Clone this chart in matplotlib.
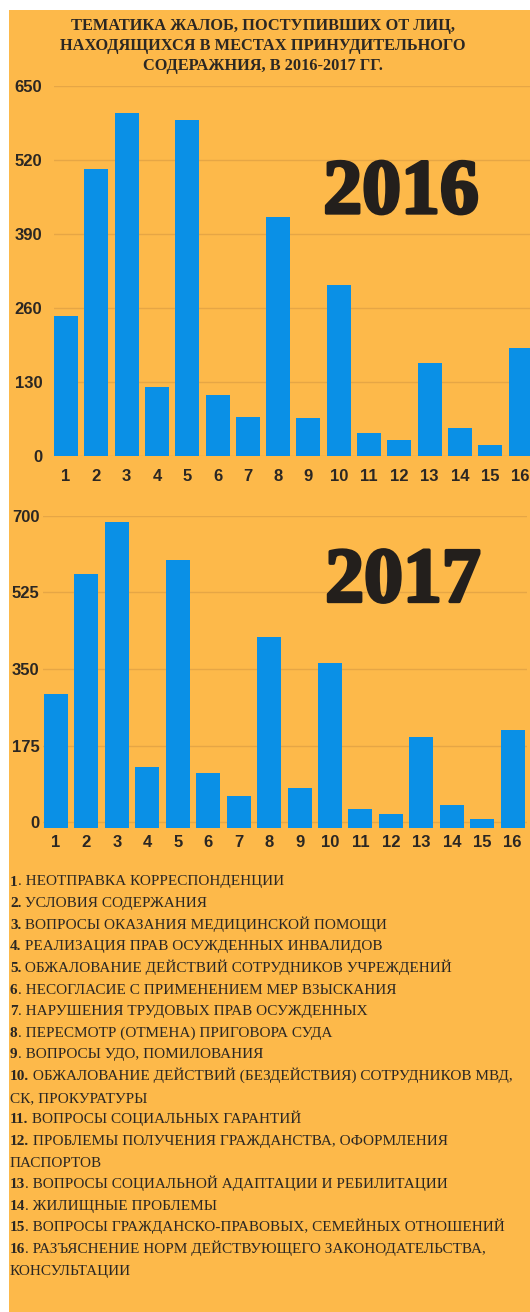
import matplotlib.pyplot as plt
import matplotlib.patheffects as pe
from matplotlib.patches import Rectangle
import numpy as np

# данные
topics = list(range(1, 17))
values_2016 = [246, 504, 602, 121, 590, 107, 68, 419, 67, 301, 40, 28, 163, 49, 19, 189]
values_2017 = [293, 566, 685, 126, 600, 113, 59, 423, 78, 364, 30, 19, 195, 39, 8, 211]
yticks_2016 = [0, 130, 260, 390, 520, 650]
yticks_2017 = [0, 175, 350, 525, 700]

title_lines = [
    "ТЕМАТИКА ЖАЛОБ, ПОСТУПИВШИХ ОТ ЛИЦ,",
    "НАХОДЯЩИХСЯ В МЕСТАХ ПРИНУДИТЕЛЬНОГО",
    "СОДЕРАЖНИЯ, В 2016-2017 ГГ.",
]

# (номер, текст); None -> строка-продолжение
legend_lines = [
    ("1", ". НЕОТПРАВКА КОРРЕСПОНДЕНЦИИ"),
    ("2.", " УСЛОВИЯ СОДЕРЖАНИЯ"),
    ("3.", " ВОПРОСЫ ОКАЗАНИЯ МЕДИЦИНСКОЙ ПОМОЩИ"),
    ("4.", " РЕАЛИЗАЦИЯ ПРАВ ОСУЖДЕННЫХ ИНВАЛИДОВ"),
    ("5.", " ОБЖАЛОВАНИЕ ДЕЙСТВИЙ СОТРУДНИКОВ УЧРЕЖДЕНИЙ"),
    ("6", ". НЕСОГЛАСИЕ С ПРИМЕНЕНИЕМ МЕР ВЗЫСКАНИЯ"),
    ("7", ". НАРУШЕНИЯ ТРУДОВЫХ ПРАВ ОСУЖДЕННЫХ"),
    ("8", ". ПЕРЕСМОТР (ОТМЕНА) ПРИГОВОРА СУДА"),
    ("9", ". ВОПРОСЫ УДО, ПОМИЛОВАНИЯ"),
    ("10.", " ОБЖАЛОВАНИЕ ДЕЙСТВИЙ (БЕЗДЕЙСТВИЯ) СОТРУДНИКОВ МВД,"),
    (None, "СК, ПРОКУРАТУРЫ"),
    ("11.", " ВОПРОСЫ СОЦИАЛЬНЫХ ГАРАНТИЙ"),
    ("12.", " ПРОБЛЕМЫ ПОЛУЧЕНИЯ ГРАЖДАНСТВА, ОФОРМЛЕНИЯ"),
    (None, "ПАСПОРТОВ"),
    ("13", ". ВОПРОСЫ СОЦИАЛЬНОЙ АДАПТАЦИИ И РЕБИЛИТАЦИИ"),
    ("14", ". ЖИЛИЩНЫЕ ПРОБЛЕМЫ"),
    ("15", ". ВОПРОСЫ ГРАЖДАНСКО-ПРАВОВЫХ, СЕМЕЙНЫХ ОТНОШЕНИЙ"),
    ("16", ". РАЗЪЯСНЕНИЕ НОРМ ДЕЙСТВУЮЩЕГО ЗАКОНОДАТЕЛЬСТВА,"),
    (None, "КОНСУЛЬТАЦИИ"),
]

W, H = 530, 1312
BG = "#FDB94A"
BAR = "#0A90E6"
GRID = "#E6A645"
TXT = "#2B2723"


def fx(x):
    return x / W


def fy(y):
    return 1 - y / H


fig = plt.figure(figsize=(W / 100, H / 100), dpi=100, facecolor="white")
fig.patches.append(Rectangle((fx(9), 0), 1 - fx(9), fy(10), transform=fig.transFigure,
                             facecolor=BG, edgecolor="none", zorder=-10))

serif = "Liberation Serif"
sans = "Liberation Sans"

# заголовок
for i, line in enumerate(title_lines):
    fig.text(fx(263), fy(29.5 + 20.4 * i), line, ha="center", va="baseline",
             fontsize=11.8, fontweight="bold", family=serif, color=TXT)


def draw_chart(values, yticks, box, xlim, base, xpad, ypad, year, year_pos):
    left, top, right, bottom = box
    ax = fig.add_axes([fx(left), fy(bottom), fx(right) - fx(left), (bottom - top) / H])
    ax.set_facecolor("none")
    vals = np.array(values)
    ax.bar(topics, vals - base, bottom=base, width=0.79, color=BAR, zorder=2)
    ax.set_xlim(*xlim)
    ax.set_ylim(base, yticks[-1])
    ax.set_yticks(yticks)
    ax.set_xticks(topics)
    ax.set_xticklabels([str(t) for t in topics])
    ax.grid(axis="y", color=GRID, linewidth=1.0, zorder=1)
    ax.set_axisbelow(True)
    ax.tick_params(axis="both", length=0, labelsize=12, labelcolor=TXT)
    ax.tick_params(axis="x", pad=xpad)
    ax.tick_params(axis="y", pad=ypad)
    for lab in ax.get_xticklabels() + ax.get_yticklabels():
        lab.set_fontweight("bold")
        lab.set_family(sans)
    for s in ax.spines.values():
        s.set_visible(False)
    fig.text(fx(year_pos[0]), fy(year_pos[1]), year, ha="center", va="baseline",
             fontsize=56, fontweight="bold", family=serif, color="#231F1C",
             path_effects=[pe.withStroke(linewidth=2.4, foreground="#231F1C")])
    return ax


# 2016
draw_chart(values_2016, yticks_2016, (54, 86, 530, 456), (0.604, 16.31), 0,
           9.5, 8.5, "2016", (401, 213))
# 2017
draw_chart(values_2017, yticks_2017, (43, 515.7, 527, 827.7), (0.573, 16.47), -12.3,
           5, 2.5, "2017", (403, 601.5))

# легенда
fig.canvas.draw()
renderer = fig.canvas.get_renderer()
y0 = 885.5
step = 21.62
for i, (num, text) in enumerate(legend_lines):
    y = fy(y0 + step * i)
    x = fx(10)
    if num is not None:
        t = fig.text(x, y, num, ha="left", va="baseline", fontsize=11,
                     fontweight="bold", family=serif, color=TXT)
        bb = t.get_window_extent(renderer)
        x = bb.x1 / W
    fig.text(x, y, text, ha="left", va="baseline", fontsize=11,
             family=serif, color=TXT)

fig.savefig("out.png", dpi=100, facecolor="white")
